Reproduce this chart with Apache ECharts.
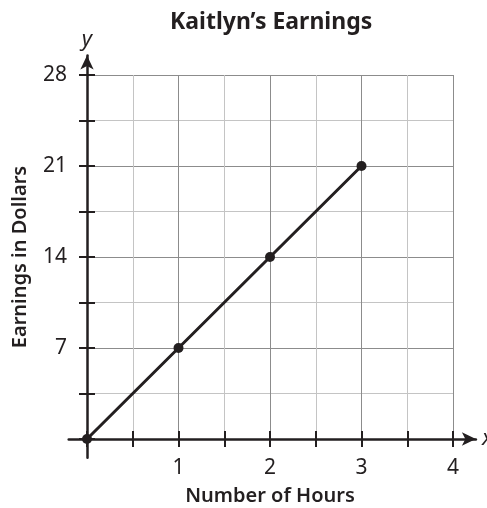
<!DOCTYPE html>
<html>
<head>
<meta charset="utf-8">
<script src="https://cdn.jsdelivr.net/npm/echarts@6/dist/echarts.min.js"></script>
<style>
  html, body { margin: 0; padding: 0; background: #fff; }
  #chart { width: 487px; height: 508px; }
</style>
</head>
<body>
<div id="chart"></div>
<script>
// data
var hours = [0, 1, 2, 3];
var earnings = [0, 7, 14, 21];
var xLabels = [1, 2, 3, 4];
var yLabels = [7, 14, 21, 28];

var xMax = 4, xStep = 0.5;
var yMax = 28, yStep = 3.5;

(function () {
  var ink = '#231f20';
  var font = 'Noto Sans';

  // plot area (pixels)
  var plot = { left: 87, top: 75, width: 366, height: 364 };
  var xPer = plot.width / xMax;
  var yPer = plot.height / yMax;

  // the arrowed axes run a little past the grid
  var ax = { xMin: -0.2, xMax: 4.25, yMin: -1.45, yMax: 29.5 };
  var outer = {
    left: plot.left + ax.xMin * xPer,
    top: plot.top - (ax.yMax - yMax) * yPer,
    width: (ax.xMax - ax.xMin) * xPer,
    height: (ax.yMax - ax.yMin) * yPer
  };

  function showIf(list) {
    return function (v) {
      return list.indexOf(Math.round(v * 100) / 100) >= 0 ? String(v) : '';
    };
  }

  var pairs = hours.map(function (h, i) { return [h, earnings[i]]; });

  var chart = echarts.init(document.getElementById('chart'));
  var option = {
    animation: false,
    title: {
      text: 'Kaitlyn\u2019s Earnings',
      left: 165,
      top: 6,
      textStyle: { fontFamily: font, fontSize: 23, fontWeight: 'bold', color: ink }
    },
    grid: [
      { left: plot.left, top: plot.top, width: plot.width, height: plot.height,
        containLabel: false, outerBoundsMode: 'none' },
      { left: outer.left, top: outer.top, width: outer.width, height: outer.height,
        containLabel: false, outerBoundsMode: 'none' }
    ],
    xAxis: [
      { // grid lines + upward ticks
        type: 'value', gridIndex: 0, min: 0, max: xMax, interval: xStep,
        position: 'bottom',
        axisLine: { show: false },
        axisTick: { show: true, inside: true, length: 8, lineStyle: { color: ink, width: 2 } },
        axisLabel: { show: false },
        splitLine: { show: true, lineStyle: { color: ['#8c8c8c', '#c4c4c4'], width: 1 } }
      },
      { // downward ticks + labels + name
        type: 'value', gridIndex: 0, min: 0, max: xMax, interval: xStep,
        position: 'bottom',
        axisLine: { show: false },
        axisTick: { show: true, inside: false, length: 8, lineStyle: { color: ink, width: 2 } },
        axisLabel: {
          show: true, margin: 19, formatter: showIf(xLabels),
          fontFamily: font, fontSize: 21, color: ink
        },
        splitLine: { show: false },
        name: 'Number of Hours', nameLocation: 'middle', nameGap: 47,
        nameTextStyle: { fontFamily: font, fontSize: 20, fontWeight: 600, color: ink }
      },
      { // arrowed x axis
        type: 'value', gridIndex: 1, min: ax.xMin, max: ax.xMax,
        axisLine: { show: true, onZero: true, symbol: ['none', 'arrow'], symbolSize: [10, 14],
          lineStyle: { color: ink, width: 2.5 } },
        axisTick: { show: false }, axisLabel: { show: false }, splitLine: { show: false },
        name: 'x', nameLocation: 'end', nameGap: 6,
        nameTextStyle: { fontFamily: font, fontSize: 22, fontStyle: 'italic', color: ink }
      }
    ],
    yAxis: [
      {
        type: 'value', gridIndex: 0, min: 0, max: yMax, interval: yStep,
        position: 'left',
        axisLine: { show: false },
        axisTick: { show: true, inside: true, length: 8, lineStyle: { color: ink, width: 2 } },
        axisLabel: { show: false },
        splitLine: { show: true, lineStyle: { color: ['#8c8c8c', '#c4c4c4'], width: 1 } }
      },
      {
        type: 'value', gridIndex: 0, min: 0, max: yMax, interval: yStep,
        position: 'left',
        axisLine: { show: false },
        axisTick: { show: true, inside: false, length: 8, lineStyle: { color: ink, width: 2 } },
        axisLabel: {
          show: true, margin: 20, formatter: showIf(yLabels),
          fontFamily: font, fontSize: 21, color: ink
        },
        splitLine: { show: false },
        name: 'Earnings in Dollars', nameLocation: 'middle', nameGap: 57,
        nameTextStyle: { fontFamily: font, fontSize: 20, fontWeight: 600, color: ink }
      },
      {
        type: 'value', gridIndex: 1, min: ax.yMin, max: ax.yMax,
        axisLine: { show: true, onZero: true, symbol: ['none', 'arrow'], symbolSize: [10, 14],
          lineStyle: { color: ink, width: 2.5 } },
        axisTick: { show: false }, axisLabel: { show: false }, splitLine: { show: false },
        name: 'y', nameLocation: 'end', nameGap: 5,
        nameTextStyle: { fontFamily: font, fontSize: 22, fontStyle: 'italic', color: ink }
      }
    ],
    series: [{
      type: 'line',
      xAxisIndex: 0,
      yAxisIndex: 0,
      data: pairs,
      clip: false,
      symbol: 'circle',
      symbolSize: 10,
      lineStyle: { color: ink, width: 3 },
      itemStyle: { color: ink },
      z: 10
    }]
  };
  chart.setOption(option);
}());
</script>
</body>
</html>
